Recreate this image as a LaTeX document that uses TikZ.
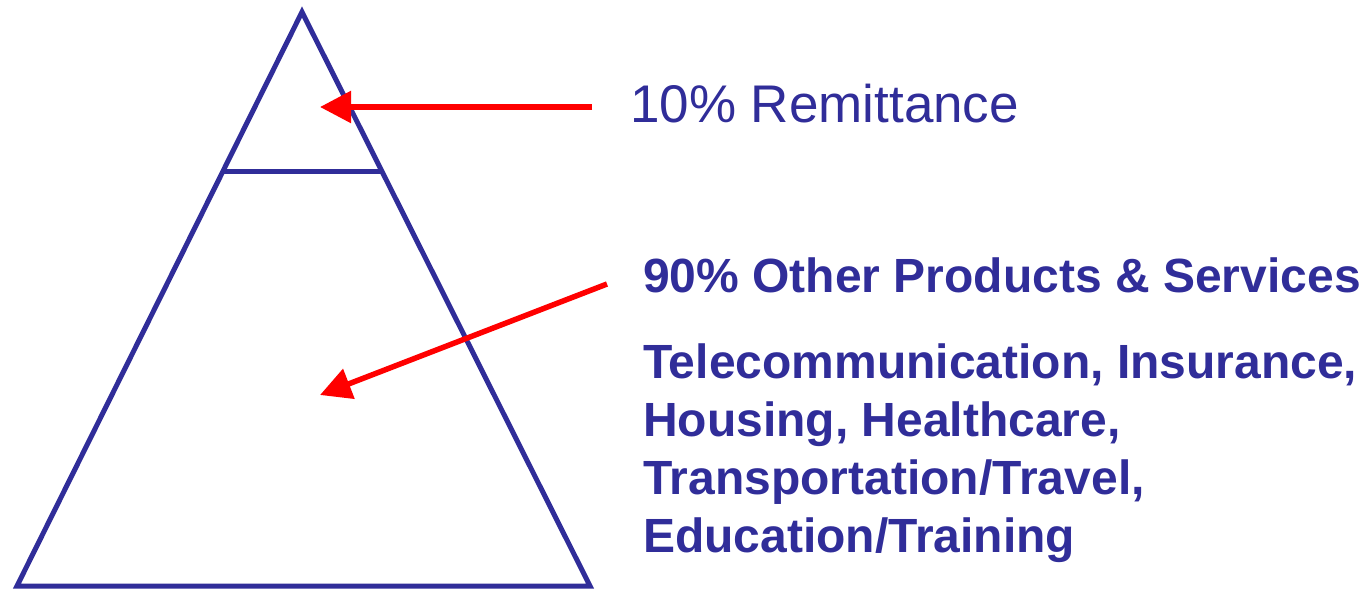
\documentclass[tikz,border=0pt]{standalone}
\usepackage{fontspec}
\setmainfont{Liberation Sans}
\usetikzlibrary{arrows.meta}
\definecolor{pyrblue}{RGB}{48,45,153}
\definecolor{pyrred}{RGB}{255,0,0}
\tikzset{
  edge/.style={draw=pyrblue, line width=5pt, line join=miter},
  pointer/.style={draw=pyrred, line width=5.5pt, -{Triangle[length=31pt,width=31pt]}},
  plainlabel/.style={anchor=base west, inner sep=0pt, text=pyrblue, font=\fontsize{53}{60}\selectfont},
  boldlabel/.style={anchor=base west, inner sep=0pt, text=pyrblue, font=\fontsize{48}{58}\selectfont\bfseries}
}
\begin{document}
\begin{tikzpicture}[x=1pt, y=-1pt]
  \useasboundingbox (0,0) rectangle (1367,589);
  % pyramid outline and the cut below the top share
  \coordinate (apex) at (302,12);
  \coordinate (bl) at (17,586);
  \coordinate (br) at (590,586);
  \draw[edge] (apex) -- (bl) -- (br) -- cycle;
  \coordinate (cutl) at (223,171);
  \coordinate (cutr) at (382,171);
  \draw[edge] (cutl) -- (cutr);
  % labels
  \node[plainlabel] (remit) at (630,122) {10\% Remittance};
  \node[boldlabel] (other) at (643,292) {90\% Other Products \& Services};
  \node[boldlabel] (l1) at (643,378) {Telecommunication, Insurance,};
  \node[boldlabel] (l2) at (643,436) {Housing, Healthcare,};
  \node[boldlabel] (l3) at (643,494) {Transportation/Travel,};
  \node[boldlabel] (l4) at (643,552) {Education/Training};
  % pointers into the pyramid
  \coordinate (topstart) at (592,107);
  \coordinate (toptip) at (320,107);
  \draw[pointer] (topstart) -- (toptip);
  \coordinate (lowstart) at (607,284);
  \coordinate (lowtip) at (320,395);
  \draw[pointer] (lowstart) -- (lowtip);
\end{tikzpicture}
\end{document}
